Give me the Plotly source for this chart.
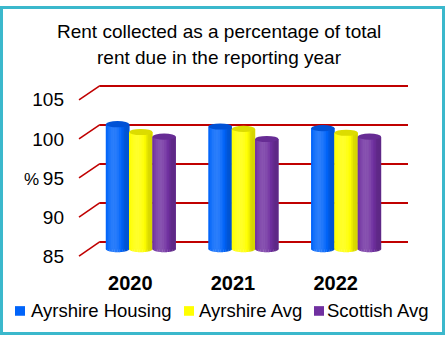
import plotly.graph_objects as go
import math

# ---- data ----
years = ["2020", "2021", "2022"]
series_names = ["Ayrshire Housing", "Ayrshire Avg", "Scottish Avg"]
ayrshire_housing = [101.0, 100.7, 100.5]
ayrshire_avg = [100.0, 100.4, 99.9]
scottish_avg = [99.4, 99.1, 99.4]
y_ticks = [85, 90, 95, 100, 105]
y_tick_text = ["85", "90", "95", "100", "105"]
title_lines = ["Rent collected as a percentage of total", "rent due in the reporting year"]

series_values = [ayrshire_housing, ayrshire_avg, scottish_avg]
base_colors = [(0, 100, 250), (255, 255, 0), (112, 48, 160)]
cap_colors = ["#0052d6", "#dcdc00", "#672c94"]

# ---- canvas / geometry (pixels) ----
W, H = 445, 342
GRID_RED = "#c00000"

# back wall, mid depth (bars) and front edge (labels)
BACK_X = (100, 408)
MID_X = (89.5, 397.5)
FRONT_X = (79, 387)
BACK_Y = (245, 82.7)      # pixel rows of 85 and 105
MID_Y = (252.75, 90.4)
FRONT_Y = (260, 97.5)

X_RANGE = [-0.5, 2.5]


def px(p):
    return p / W


def py(p):
    return 1 - p / H


def y_domain(p85, p105, lo, hi):
    ppu = (p85 - p105) / 20.0
    bottom = p85 + (85 - lo) * ppu
    top = p105 - (hi - 105) * ppu
    return [py(bottom), py(top)]


def mid_xpix(x):
    return MID_X[0] + (x - X_RANGE[0]) * (MID_X[1] - MID_X[0]) / (X_RANGE[1] - X_RANGE[0])


def mid_ypix(v):
    return MID_Y[0] - (v - 85) * (MID_Y[0] - MID_Y[1]) / 20.0


def shade(rgb, f):
    if f <= 1:
        c = [v * f for v in rgb]
    else:
        k = min(1.0, (f - 1) * 1.2)
        c = [v + (255 - v) * k for v in rgb]
    return "rgb(%d,%d,%d)" % tuple(int(round(max(0, min(255, v)))) for v in c)


def light(t):
    theta = (t - 0.5) * math.pi
    i = 0.25 + 0.75 * max(0.0, math.cos(theta + 0.5))
    return 0.74 + 0.40 * i


fig = go.Figure()

BAR_W = 0.227
N_SLICES = 14
SW = BAR_W / N_SLICES
RY = 3.2  # cap half-height in pixels

shapes = []

# back-wall gridlines live on x/y; bars are drawn last (x3/y3) so they sit in front
fig.add_trace(go.Scatter(x=[0], y=[95], mode="markers", marker=dict(opacity=0),
                         xaxis="x", yaxis="y", showlegend=False, hoverinfo="skip"))
fig.add_trace(go.Scatter(x=[0], y=[95], mode="markers", marker=dict(opacity=0),
                         xaxis="x2", yaxis="y2", showlegend=False, hoverinfo="skip"))

for k, (name, vals) in enumerate(zip(series_names, series_values)):
    left = (k - 1) * BAR_W - BAR_W / 2
    rgb = base_colors[k]
    fig.add_trace(go.Bar(x=[0, 1, 2], y=vals, name=name, width=BAR_W, offset=left,
                         marker=dict(color=shade(rgb, 1.0), line=dict(width=0)),
                         xaxis="x3", yaxis="y3", showlegend=False))
    # cylinder shading: narrow vertical bands with a left-front light
    for j in range(N_SLICES):
        t = (j + 0.5) / N_SLICES
        w = SW * 1.25 if j < N_SLICES - 1 else SW
        fig.add_trace(go.Bar(x=[0, 1, 2], y=vals, width=w, offset=left + j * SW,
                             marker=dict(color=shade(rgb, light(t)), line=dict(width=0)),
                             xaxis="x3", yaxis="y3", showlegend=False, hoverinfo="skip"))

    # rounded bottoms and caps
    for c, v in enumerate(vals):
        xl = mid_xpix(c + left)
        xr = mid_xpix(c + left + BAR_W)
        xc = (xl + xr) / 2
        rx = (xr - xl) / 2
        yb = mid_ypix(85)
        for j in range(N_SLICES):
            t = (j + 0.5) / N_SLICES
            a = xl + j * (xr - xl) / N_SLICES
            b = xl + (j + 1.15) * (xr - xl) / N_SLICES
            b = min(b, xr)
            pts = []
            steps = 4
            for s in range(steps + 1):
                xx = b - (b - a) * s / steps
                u = max(-1.0, min(1.0, (xx - xc) / rx))
                pts.append((xx, yb + RY * math.sqrt(1 - u * u)))
            path = "M%.5f,%.5f L%.5f,%.5f " % (px(a), py(yb - 0.5), px(b), py(yb - 0.5))
            path += " ".join("L%.5f,%.5f" % (px(xx), py(yy)) for xx, yy in pts) + " Z"
            shapes.append(dict(type="path", xref="paper", yref="paper", path=path,
                               fillcolor=shade(rgb, light(t)), line=dict(width=0),
                               layer="above"))
        yt = mid_ypix(v)
        shapes.append(dict(type="circle", xref="paper", yref="paper",
                           x0=px(xl), x1=px(xr), y0=py(yt + RY), y1=py(yt - RY),
                           fillcolor=cap_colors[k], line=dict(width=0), layer="above"))

# side (diagonal) gridlines from the front edge to the back wall
for v in y_ticks:
    fy = FRONT_Y[0] - (v - 85) * (FRONT_Y[0] - FRONT_Y[1]) / 20.0
    by = BACK_Y[0] - (v - 85) * (BACK_Y[0] - BACK_Y[1]) / 20.0
    shapes.append(dict(type="line", xref="paper", yref="paper",
                       x0=px(FRONT_X[0]), y0=py(fy), x1=px(BACK_X[0]), y1=py(by),
                       line=dict(color=GRID_RED, width=1.6), layer="below"))

# custom legend
leg_sq_x = [15, 184, 314]
leg_txt_x = [29, 197, 325]
LEG_Y = 317
for k, name in enumerate(series_names):
    shapes.append(dict(type="rect", xref="paper", yref="paper",
                       x0=px(leg_sq_x[k]), x1=px(leg_sq_x[k] + 10),
                       y0=py(LEG_Y + 5), y1=py(LEG_Y - 5),
                       fillcolor=shade(base_colors[k], 1.0), line=dict(width=0)))

# outer frame
shapes.append(dict(type="rect", xref="paper", yref="paper", x0=px(1.5), x1=px(W - 1.5),
                   y0=py(H - 1.5), y1=py(1.5), line=dict(color="#3bb8cc", width=3)))

annotations = [
    dict(text="%", x=px(22), y=py(180), xref="paper", yref="paper", showarrow=False,
         font=dict(family="Liberation Sans", size=17, color="black")),
]
for line, yc in zip(title_lines, [26.5, 53.5]):
    annotations.append(dict(text=line, x=px(219), y=py(yc), xref="paper", yref="paper",
                            xanchor="center", yanchor="middle", showarrow=False,
                            font=dict(family="Liberation Sans", size=19, color="black")))
for k, name in enumerate(series_names):
    annotations.append(dict(text=name, x=px(leg_txt_x[k]), y=py(LEG_Y), xref="paper",
                            yref="paper", xanchor="left", yanchor="middle", showarrow=False,
                            font=dict(family="Liberation Sans", size=18.5, color="black")))

fig.update_layout(
    width=W, height=H,
    margin=dict(l=0, r=0, t=0, b=0),
    paper_bgcolor="white",
    plot_bgcolor="rgba(0,0,0,0)",
    barmode="overlay",
    showlegend=False,
    xaxis=dict(domain=[px(BACK_X[0]), px(BACK_X[1])], range=X_RANGE, visible=False),
    yaxis=dict(domain=y_domain(BACK_Y[0], BACK_Y[1], 84.5, 105.5), range=[84.5, 105.5],
               tickvals=y_ticks, showgrid=True, gridcolor=GRID_RED, gridwidth=1.6,
               showticklabels=False, zeroline=False, showline=False, ticks=""),
    xaxis2=dict(domain=[px(FRONT_X[0]), px(FRONT_X[1])], range=X_RANGE, anchor="y2",
                tickvals=[0, 1, 2], ticktext=years, showgrid=False, zeroline=False,
                showline=False, ticks="", ticklabelstandoff=9,
                tickfont=dict(family="Liberation Sans", size=20, color="black", weight="bold")),
    yaxis2=dict(domain=y_domain(FRONT_Y[0], FRONT_Y[1], 84.5, 105.5), range=[84.5, 105.5],
                anchor="x2", tickvals=y_ticks, ticktext=y_tick_text, showgrid=False,
                zeroline=False, showline=False, ticks="", ticklabelstandoff=14,
                tickfont=dict(family="Liberation Sans", size=19, color="black")),
    xaxis3=dict(domain=[px(MID_X[0]), px(MID_X[1])], range=X_RANGE, anchor="y3",
                visible=False),
    yaxis3=dict(domain=y_domain(MID_Y[0], MID_Y[1], 85, 106), range=[85, 106],
                anchor="x3", visible=False),
    shapes=shapes,
    annotations=annotations,
)

fig.write_html("out.html")
